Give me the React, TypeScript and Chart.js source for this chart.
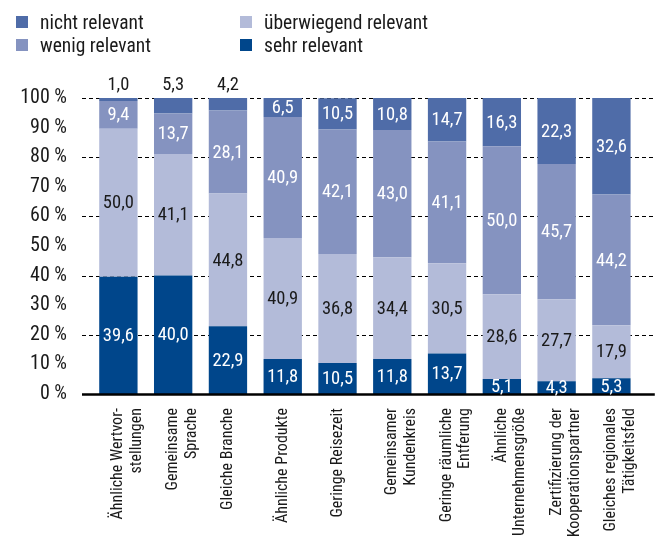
import React, { useEffect, useRef } from "react";
import { Chart, registerables } from "chart.js";

Chart.register(...registerables);

const categories: string[][] = [
  ["Ähnliche Wertvor-", "stellungen"],
  ["Gemeinsame", "Sprache"],
  ["Gleiche Branche"],
  ["Ähnliche Produkte"],
  ["Geringe Reisezeit"],
  ["Gemeinsamer", "Kundenkreis"],
  ["Geringe räumliche", "Entferung"],
  ["Ähnliche", "Unternehmensgröße"],
  ["Zertifizierung der", "Kooperationspartner"],
  ["Gleiches regionales", "Tätigkeitsfeld"],
];

const sehrRelevant = [39.6, 40.0, 22.9, 11.8, 10.5, 11.8, 13.7, 5.1, 4.3, 5.3];
const ueberwiegendRelevant = [50.0, 41.1, 44.8, 40.9, 36.8, 34.4, 30.5, 28.6, 27.7, 17.9];
const wenigRelevant = [9.4, 13.7, 28.1, 40.9, 42.1, 43.0, 41.1, 50.0, 45.7, 44.2];
const nichtRelevant = [1.0, 5.3, 4.2, 6.5, 10.5, 10.8, 14.7, 16.3, 22.3, 32.6];

const seriesNames = ["sehr relevant", "überwiegend relevant", "wenig relevant", "nicht relevant"];
const seriesColors = ["#00468b", "#b3bbd9", "#8593c0", "#4f6ca8"];
const labelColors = ["#ffffff", "#1a1a1a", "#ffffff", "#ffffff"];
const legendOrder = [3, 1, 2, 0];
const yTicks = [0, 10, 20, 30, 40, 50, 60, 70, 80, 90, 100];
const gridValues = [20, 40, 60, 80, 100];

const FONT = "'Roboto Condensed', Roboto, sans-serif";

const fmt = (v: number) => v.toFixed(1).replace(".", ",");

const overlayPlugin = {
  id: "overlay",
  beforeDatasetsDraw(chart: any) {
    const { ctx, scales, chartArea } = chart;
    const y = scales.y;
    ctx.save();
    ctx.setLineDash([4, 3]);
    ctx.strokeStyle = "#000";
    ctx.lineWidth = 1;
    for (const v of gridValues) {
      const py = Math.round(y.getPixelForValue(v)) + 0.5;
      ctx.beginPath();
      ctx.moveTo(chartArea.left - 9, py);
      ctx.lineTo(chartArea.right + 16, py);
      ctx.stroke();
    }
    ctx.restore();
  },
  afterDatasetsDraw(chart: any) {
    const { ctx, scales, chartArea } = chart;
    const y = scales.y;
    ctx.save();
    ctx.strokeStyle = "#000";
    ctx.lineWidth = 2.5;
    const py0 = y.getPixelForValue(0) + 0.5;
    ctx.beginPath();
    ctx.moveTo(chartArea.left - 9, py0);
    ctx.lineTo(chartArea.right + 16, py0);
    ctx.stroke();

    ctx.font = `18.5px ${FONT}`;
    ctx.textAlign = "center";
    chart.data.datasets.forEach((ds: any, i: number) => {
      const meta = chart.getDatasetMeta(i);
      meta.data.forEach((el: any, j: number) => {
        const v = ds.data[j];
        const txt = fmt(v);
        if (i === 3 && v < 6) {
          ctx.fillStyle = "#1a1a1a";
          ctx.textBaseline = "bottom";
          ctx.fillText(txt, el.x, el.y - 3);
        } else {
          ctx.fillStyle = labelColors[i];
          ctx.textBaseline = "middle";
          ctx.fillText(txt, el.x, (el.y + el.base) / 2 + 1);
        }
      });
    });
    ctx.restore();
  },
};

export default function App() {
  const ref = useRef<HTMLCanvasElement | null>(null);

  useEffect(() => {
    if (!ref.current) return;
    const seriesData = [sehrRelevant, ueberwiegendRelevant, wenigRelevant, nichtRelevant];
    const chart = new Chart(ref.current, {
      type: "bar",
      data: {
        labels: categories,
        datasets: seriesData.map((d, i) => ({
          label: seriesNames[i],
          data: d,
          backgroundColor: seriesColors[i],
          borderWidth: 0,
          barPercentage: 0.7,
          categoryPercentage: 1,
        })),
      },
      options: {
        animation: false,
        responsive: true,
        maintainAspectRatio: false,
        layout: { padding: { top: 98, right: 16, left: 0, bottom: 0 } },
        plugins: {
          legend: { display: false },
          tooltip: { enabled: false },
        },
        scales: {
          x: {
            stacked: true,
            grid: { display: false, drawTicks: false },
            border: { display: false },
            ticks: {
              minRotation: 90,
              maxRotation: 90,
              autoSkip: false,
              padding: 14,
              color: "#1a1a1a",
              font: { family: FONT, size: 16, lineHeight: 1.15 },
            },
            afterFit: (axis: any) => {
              axis.height = 143;
            },
          },
          y: {
            stacked: true,
            min: 0,
            max: 100,
            afterBuildTicks: (axis: any) => {
              axis.ticks = yTicks.map((v) => ({ value: v }));
            },
            grid: { display: false, drawTicks: false },
            border: { display: false },
            ticks: {
              padding: 24,
              color: "#1a1a1a",
              font: { family: FONT, size: 20 },
              callback: (v: any) => `${v} %`,
            },
            afterFit: (axis: any) => {
              axis.width = 91;
            },
          },
        },
      },
      plugins: [overlayPlugin],
    });
    return () => chart.destroy();
  }, []);

  const legendPos = [
    { left: 16, top: 12 },
    { left: 240, top: 12 },
    { left: 16, top: 35 },
    { left: 240, top: 35 },
  ];

  return (
    <div style={{ position: "absolute", left: 0, top: 0, width: 663, height: 537, background: "#fff" }}>
      <canvas ref={ref} />
      {legendOrder.map((si, k) => (
        <div
          key={si}
          style={{
            position: "absolute",
            left: legendPos[k].left,
            top: legendPos[k].top,
            height: 20,
            display: "flex",
            alignItems: "center",
            fontFamily: FONT,
            fontSize: 19.5,
            color: "#1a1a1a",
            whiteSpace: "nowrap",
          }}
        >
          <span style={{ display: "inline-block", width: 12, height: 12, background: seriesColors[si], marginRight: 12 }} />
          <span>{seriesNames[si]}</span>
        </div>
      ))}
    </div>
  );
}
